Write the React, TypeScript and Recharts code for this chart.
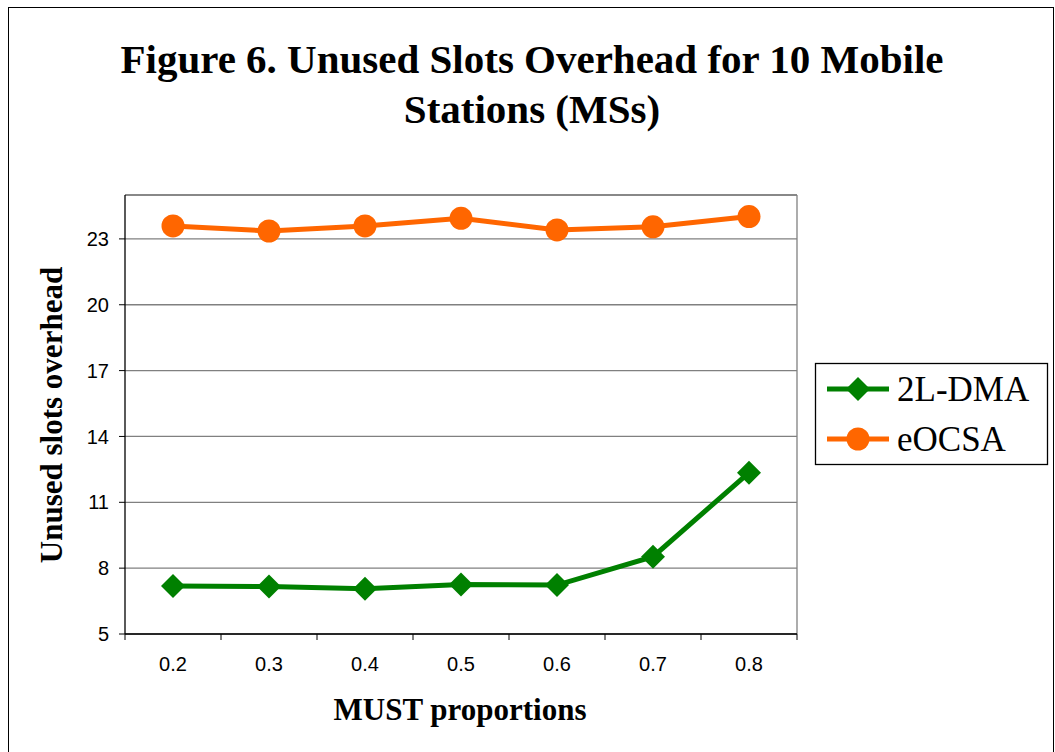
import React from 'react';
import { LineChart, Line, XAxis, YAxis, CartesianGrid, ReferenceLine } from 'recharts';

// MUST proportion on the x axis, one value per category
const proportions = [0.2, 0.3, 0.4, 0.5, 0.6, 0.7, 0.8];
// unused slots overhead per scheme
const dma2l = [7.19, 7.16, 7.06, 7.26, 7.23, 8.52, 12.35];
const eocsa = [23.59, 23.36, 23.59, 23.94, 23.41, 23.55, 24.02];
const yTicks = [5, 8, 11, 14, 17, 20, 23];

const GREEN = '#008000';
const ORANGE = '#FF6600';
const SERIF = '"Liberation Serif", "Times New Roman", serif';
const SANS = '"Liberation Sans", Arial, sans-serif';

const W = 1055;
const H = 752;
const MARGIN = { top: 195, right: 258, bottom: 88, left: 65 };
const Y_AXIS_W = 60;
const X_AXIS_H = 30;
// width of one category band, used to centre labels between the tick marks
const BAND = (W - MARGIN.left - Y_AXIS_W - MARGIN.right) / proportions.length;

const Diamond = (props: any) => {
  const { cx, cy, index } = props;
  const s = 12;
  return (
    <polygon
      key={`d-${index}`}
      points={`${cx},${cy - s} ${cx + s},${cy} ${cx},${cy + s} ${cx - s},${cy}`}
      fill={GREEN}
    />
  );
};

// tick marks sit on category boundaries; the label is drawn in the middle of the band
const BandTick = (props: any) => {
  const { x, y, payload, index } = props;
  if (index >= proportions.length) return <g />;
  return (
    <text x={x + BAND / 2} y={y} dy="0.71em" textAnchor="middle" fontSize={20} fontFamily={SANS} fill="#000">
      {(payload.value + 0.05).toFixed(1)}
    </text>
  );
};

export default function App() {
  const data = proportions.map((p, i) => ({ p, dma: dma2l[i], eocsa: eocsa[i] }));
  const bounds = [
    ...proportions.map((p) => +(p - 0.05).toFixed(2)),
    +(proportions[proportions.length - 1] + 0.05).toFixed(2),
  ];
  const xDomain = [bounds[0], bounds[bounds.length - 1]];

  return (
    <div style={{ position: 'absolute', left: 0, top: 0, width: W, height: H, background: '#fff', overflow: 'hidden' }}>
      <div style={{ position: 'absolute', left: 8, top: 7, width: 1044, height: 800, border: '1px solid #000' }} />
      <LineChart
        width={W}
        height={H}
        data={data}
        margin={MARGIN}
        style={{ position: 'absolute', left: 0, top: 0 }}
      >
        <CartesianGrid horizontal vertical={false} stroke="#808080" strokeWidth={1.3} />
        <XAxis
          type="number"
          dataKey="p"
          domain={xDomain}
          ticks={bounds}
          allowDataOverflow
          interval={0}
          height={X_AXIS_H}
          tickSize={6}
          tickMargin={17}
          tick={<BandTick />}
          axisLine={{ stroke: '#000', strokeWidth: 1.3 }}
          tickLine={{ stroke: '#000' }}
        />
        <YAxis
          type="number"
          domain={[5, 25]}
          ticks={yTicks}
          interval={0}
          width={Y_AXIS_W}
          tickSize={6}
          tickMargin={10}
          axisLine={{ stroke: '#000', strokeWidth: 1.3 }}
          tickLine={{ stroke: '#000' }}
          tick={{ fontSize: 20, fill: '#000', fontFamily: SANS }}
        />
        <ReferenceLine y={25} stroke="#808080" strokeWidth={1.3} />
        <ReferenceLine x={xDomain[1]} stroke="#808080" strokeWidth={1.3} />
        <Line
          type="linear"
          dataKey="dma"
          name="2L-DMA"
          stroke={GREEN}
          strokeWidth={5}
          dot={Diamond}
          isAnimationActive={false}
        />
        <Line
          type="linear"
          dataKey="eocsa"
          name="eOCSA"
          stroke={ORANGE}
          strokeWidth={5}
          dot={{ r: 11.5, fill: ORANGE, stroke: 'none' }}
          isAnimationActive={false}
        />
      </LineChart>
      <svg width={W} height={H} style={{ position: 'absolute', left: 0, top: 0, pointerEvents: 'none' }}>
        <g fontFamily={SERIF} fontWeight="bold" fill="#000">
          <text x={532} y={73} fontSize={41} textAnchor="middle">Figure 6. Unused Slots Overhead for 10 Mobile</text>
          <text x={532} y={123} fontSize={41} textAnchor="middle">Stations (MSs)</text>
          <text x={460} y={720} fontSize={31} textAnchor="middle">MUST proportions</text>
          <text transform="translate(62,415) rotate(-90)" fontSize={31} textAnchor="middle">Unused slots overhead</text>
        </g>
        <rect x={815.5} y={363.5} width={232} height={101} fill="#fff" stroke="#000" strokeWidth={1.3} />
        <line x1={827} x2={889} y1={389} y2={389} stroke={GREEN} strokeWidth={5} />
        <Diamond cx={858} cy={389} index={-1} />
        <text x={897} y={401} fontSize={35} fontFamily={SERIF}>2L-DMA</text>
        <line x1={827} x2={889} y1={439} y2={439} stroke={ORANGE} strokeWidth={5} />
        <circle cx={858} cy={439} r={11.5} fill={ORANGE} />
        <text x={897} y={451} fontSize={35} fontFamily={SERIF}>eOCSA</text>
      </svg>
    </div>
  );
}
